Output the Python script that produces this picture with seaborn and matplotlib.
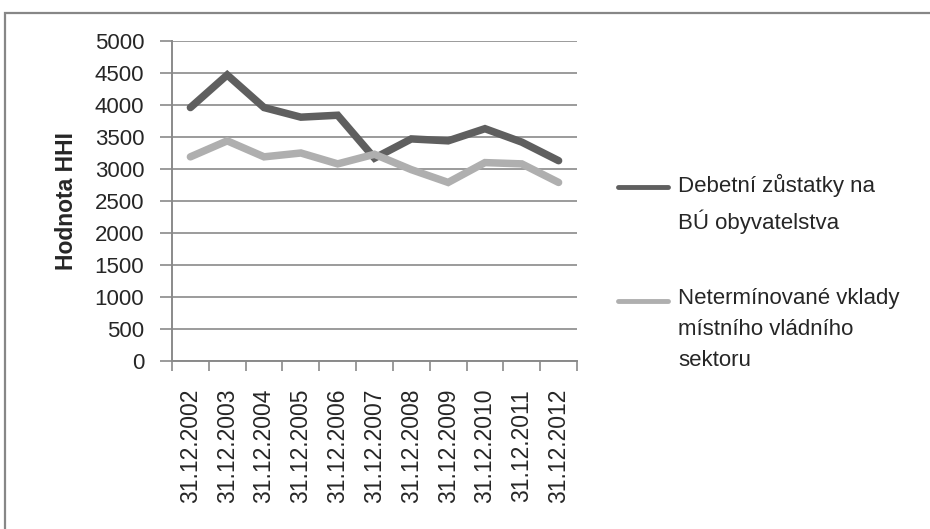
import matplotlib
matplotlib.use("Agg")
import matplotlib.pyplot as plt
from matplotlib.lines import Line2D
from matplotlib.patches import Rectangle
import seaborn as sns
import pandas as pd

# Data
dates = ["31.12.2002", "31.12.2003", "31.12.2004", "31.12.2005", "31.12.2006",
         "31.12.2007", "31.12.2008", "31.12.2009", "31.12.2010", "31.12.2011",
         "31.12.2012"]
debetni = [3960, 4470, 3960, 3810, 3840, 3170, 3470, 3440, 3630, 3420, 3130]
netermin = [3190, 3440, 3190, 3250, 3080, 3230, 2990, 2790, 3100, 3080, 2790]
series_names = ["Debetní zůstatky na\nBÚ obyvatelstva",
                "Netermínované vklady\nmístního vládního\nsektoru"]
y_ticks = [0, 500, 1000, 1500, 2000, 2500, 3000, 3500, 4000, 4500, 5000]
y_label = "Hodnota HHI"

colors = ["#5f5f5f", "#afafaf"]
grid_col = "#8a8a8a"

sns.set_style("white")
plt.rcParams["font.family"] = ["Liberation Sans", "DejaVu Sans"]

df = pd.DataFrame({
    "pos": list(range(len(dates))) * 2,
    "value": debetni + netermin,
    "series": [series_names[0]] * len(dates) + [series_names[1]] * len(dates),
})

fig = plt.figure(figsize=(9.30, 5.29), dpi=100)
W, H = 930, 529
ax = fig.add_axes([172 / W, 1 - 361 / H, (577 - 172) / W, (361 - 41) / H])

sns.lineplot(data=df, x="pos", y="value", hue="series", palette=colors,
             linewidth=5.4, ax=ax, legend=False, sort=False)
for ln in ax.lines:
    ln.set_solid_capstyle("round")
    ln.set_solid_joinstyle("miter")

ax.set_xlim(-0.5, len(dates) - 0.5)
ax.set_ylim(0, 5000)
ax.set_yticks(y_ticks)
ax.set_yticklabels([str(v) for v in y_ticks])
ax.yaxis.grid(True, color=grid_col, linewidth=1.2)
ax.set_axisbelow(True)

# Category boundary ticks and centred labels
ax.set_xticks([i - 0.5 for i in range(len(dates) + 1)])
ax.set_xticklabels([])
ax.set_xticks(range(len(dates)), minor=True)
ax.set_xticklabels(dates, minor=True, rotation=90, fontsize=16.5)
ax.tick_params(axis="x", which="major", bottom=True, length=7, width=1.2,
               color=grid_col)
ax.tick_params(axis="x", which="minor", bottom=True, length=0, pad=20)
ax.tick_params(axis="y", left=True, length=9, width=1.2, color=grid_col,
               pad=11, labelsize=16)

for side in ["top", "right"]:
    ax.spines[side].set_visible(False)
for side in ["left", "bottom"]:
    ax.spines[side].set_color(grid_col)
    ax.spines[side].set_linewidth(1.4)

ax.set_xlabel("")
ax.set_ylabel(y_label, fontsize=16.5, fontweight="bold", labelpad=12)

# Legend entries on the right
leg_items = [(187, series_names[0]), (301, series_names[1])]
for (yy, label), col in zip(leg_items, colors):
    fy = 1 - yy / H
    fig.add_artist(Line2D([618 / W, 668 / W], [fy, fy], color=col, linewidth=3.5,
                          transform=fig.transFigure))
    fig.text(678 / W, 1 - (yy - 13) / H, label, fontsize=16, va="top", ha="left",
             linespacing=1.62)

# Chart area frame
fig.add_artist(Rectangle((4.5 / W, -0.1), 1.2, 1 - 13 / H + 0.1, fill=False,
                         edgecolor="#878787", linewidth=1.6,
                         transform=fig.transFigure))

fig.savefig("out.png", dpi=100)
